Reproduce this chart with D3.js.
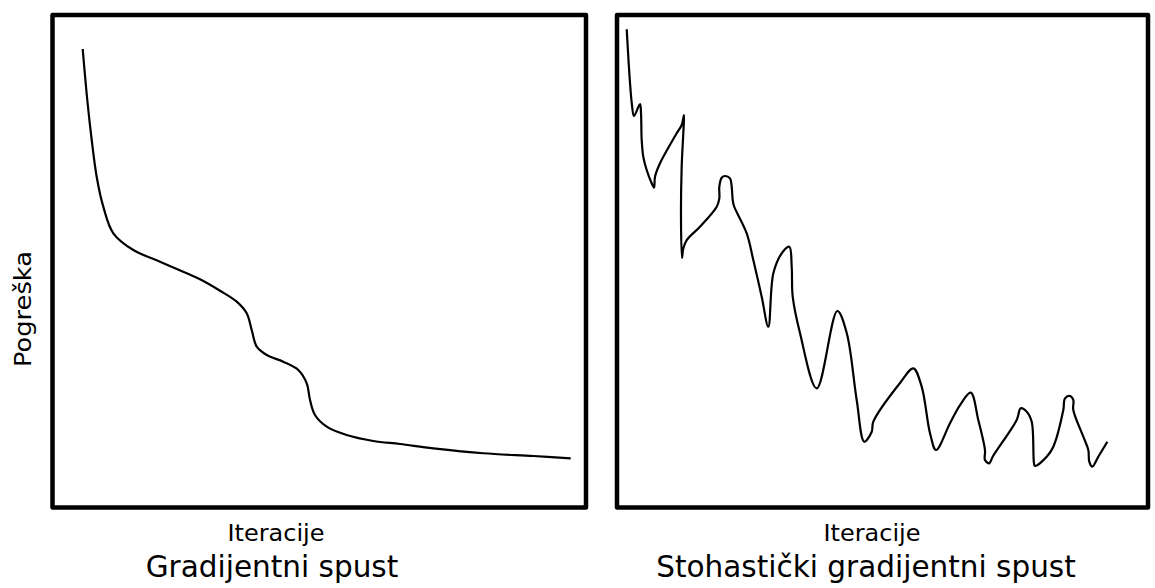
<!DOCTYPE html>
<html><head><meta charset="utf-8">
<script src="https://cdn.jsdelivr.net/npm/d3@7"></script>
<style>html,body{margin:0;padding:0;background:#fff;} svg{display:block;}</style>
</head><body>
<script>
// Gradient descent (left panel): iteration -> error
const gdIter = [5.66,6.52,7.35,8.28,9.52,11.40,15.15,20.15,25.15,27.65,31.40,34.53,36.40,37.34,38.28,40.15,43.26,46.07,47.65,48.27,49.20,51.40,55.14,60.13,65.14,71.38,80.75,90.12,97.13];
const gdErr  = [93.10,82.74,74.62,67.17,61.08,55.68,52.28,49.91,47.55,46.34,44.02,41.79,39.43,36.04,32.65,30.96,29.60,27.92,25.22,21.83,18.78,16.41,14.72,13.50,12.89,12.02,11.01,10.46,9.99];
// Stochastic gradient descent (right panel)
const sgdIter = [1.83,2.45,2.82,3.20,4.33,4.52,4.65,4.95,5.59,6.53,6.97,7.16,8.10,11.24,12.18,12.62,12.49,12.18,12.05,12.24,12.49,13.13,15.63,18.78,19.27,19.27,19.72,20.34,21.28,21.60,21.79,22.03,24.43,25.67,27.25,28.49,29.44,31.02,32.45,32.90,33.09,34.46,37.61,41.49,43.26,45.14,46.57,47.97,48.27,53.30,55.80,57.38,58.95,60.08,62.71,64.60,66.61,68.04,69.30,69.30,70.11,70.75,75.27,76.03,77.16,78.10,78.53,78.72,80.92,82.17,84.05,84.37,85.31,85.93,85.93,87.82,88.76,88.94,89.51,90.64,92.34];
const sgdErr  = [97.10,86.19,81.73,79.49,81.93,80.10,74.62,71.23,68.53,65.83,64.93,67.17,69.89,75.98,77.66,79.70,76.04,69.20,59.05,50.66,52.63,54.31,57.02,61.08,62.78,65.14,66.96,67.31,66.84,65.14,62.44,61.22,55.68,50.25,42.80,36.71,47.55,51.61,52.95,48.89,42.80,35.43,24.20,39.90,35.43,21.83,13.36,15.39,17.42,25.28,28.26,24.53,15.07,11.68,17.10,20.81,23.31,17.77,11.68,9.64,8.97,10.31,17.77,20.14,19.45,17.42,8.97,8.43,10.31,12.35,19.80,22.17,22.64,21.83,19.80,14.38,11.68,9.30,8.28,10.31,13.36];

const xLabel = "Iteracije";
const yLabel = "Pogreška";
const titles = ["Gradijentni spust", "Stohastički gradijentni spust"];

const W = 1155, H = 588;
const svg = d3.select("body").append("svg").attr("width", W).attr("height", H);

const y = d3.scaleLinear().domain([0, 100]).range([507.5, 15]);
const panels = [
  {x: d3.scaleLinear().domain([0, 100]).range([52.5, 586]), it: gdIter, er: gdErr, title: titles[0], lx: 276, tx: 272},
  {x: d3.scaleLinear().domain([0, 100]).range([617, 1148]), it: sgdIter, er: sgdErr, title: titles[1], lx: 872, tx: 866}
];
const font = "DejaVu Sans, sans-serif";

panels.forEach(p => {
  const [x0, x1] = p.x.range();
  const [yb, yt] = y.range();
  const g = svg.append("g");
  const pts = p.it.map((v, i) => [v, p.er[i]]);
  const line = d3.line().x(d => p.x(d[0])).y(d => y(d[1])).curve(d3.curveCatmullRom.alpha(0.5));
  g.append("path").attr("d", line(pts)).attr("fill", "none").attr("stroke", "#000").attr("stroke-width", 2.2)
    .attr("stroke-linejoin", "round").attr("stroke-linecap", "butt");
  g.append("rect").attr("x", x0).attr("y", yt).attr("width", x1 - x0).attr("height", yb - yt)
    .attr("fill", "none").attr("stroke", "#000").attr("stroke-width", 4.5).attr("stroke-linejoin", "round");
  g.append("text").attr("x", p.lx).attr("y", 541).attr("text-anchor", "middle")
    .attr("font-family", font).attr("font-size", 23)
    .attr("textLength", 97).attr("lengthAdjust", "spacingAndGlyphs").text(xLabel);
  g.append("text").attr("x", p.tx).attr("y", 577).attr("text-anchor", "middle")
    .attr("font-family", font).attr("font-size", 29.5).text(p.title);
});

svg.append("text").attr("transform", "translate(31,309) rotate(-90)").attr("text-anchor", "middle")
  .attr("font-family", font).attr("font-size", 23)
  .attr("textLength", 116).attr("lengthAdjust", "spacingAndGlyphs").text(yLabel);
</script>
</body></html>
